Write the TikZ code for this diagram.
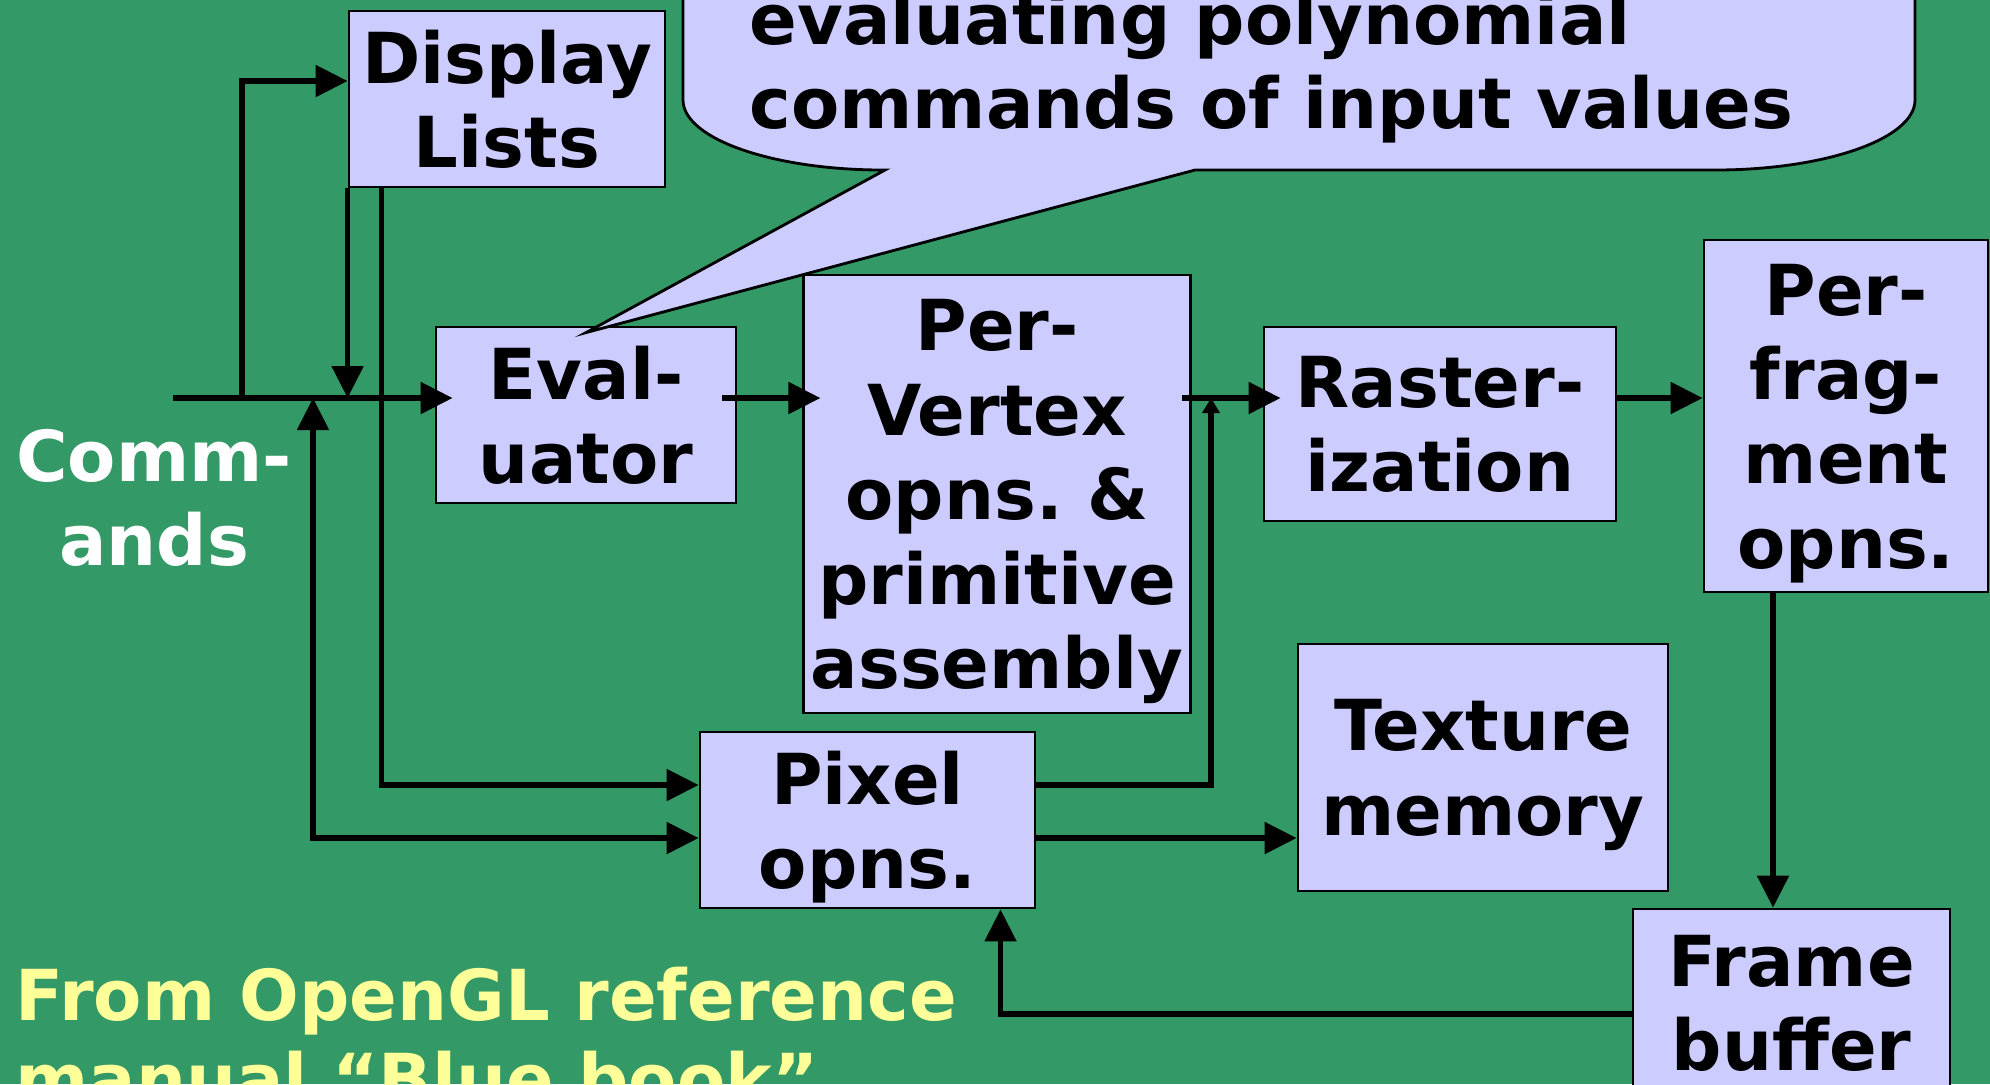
\documentclass[tikz,border=0pt]{standalone}
\usepackage{fontspec}
\setmainfont{DejaVu Sans}
\usetikzlibrary{arrows.meta, positioning, calc}

\definecolor{bggreen}{HTML}{339966}
\definecolor{boxblue}{HTML}{CCCCFF}
\definecolor{capyellow}{HTML}{FFFF99}

\begin{document}
\begin{tikzpicture}[
    block/.style={rectangle, draw, fill=boxblue, line width=0.8pt, align=center, inner sep=2pt, text depth=-0.08cm, font=\bfseries\fontsize{20}{24}\selectfont},
    label/.style={align=center, inner sep=0pt, font=\bfseries\fontsize{20}{24}\selectfont},
    flow/.style={draw, line width=1.5pt, -{Triangle[length=0.32cm, width=0.31cm]}},
    tinytip/.style={-{Triangle[length=0.15cm, width=0.17cm]}}
]

    \useasboundingbox (0,0) rectangle (19.9,-10.84);
    \clip (0,0) rectangle (19.9,-10.84);
    \fill[bggreen] (0,0) rectangle (19.9,-10.84);

    % Input
    \node [label, text=white] (cmds) at (1.54,-4.98) {Comm-\\ands};
    \coordinate (cin) at (1.73,-3.98);
    \coordinate (j1) at (2.42,-3.98);
    \coordinate (j2) at (3.13,-3.98);
    \coordinate (j3) at (12.11,-3.98);

    % Pipeline
    \node [block, minimum width=3.16cm, minimum height=1.76cm] (disp) at (5.07,-0.99) {Display\\Lists};
    \node [block, minimum width=3.00cm, minimum height=1.76cm] (eval) at (5.86,-4.15) {Eval-\\uator};
    \node [block, minimum width=3.82cm, minimum height=4.38cm] (pv) at (9.97,-4.94) {Per-\\Vertex\\opns.\ \&\\primitive\\assembly};
    \node [block, minimum width=3.52cm, minimum height=1.94cm] (ras) at (14.40,-4.24) {Raster-\\ization};
    \node [block, minimum width=2.84cm, minimum height=3.52cm] (pf) at (18.46,-4.16) {Per-\\frag-\\ment\\opns.};

    % Pixel path and memories
    \node [block, minimum width=3.35cm, minimum height=1.76cm] (pix) at (8.675,-8.20) {Pixel\\opns.};
    \node [block, minimum width=3.70cm, minimum height=2.47cm] (tex) at (14.83,-7.675) {Texture\\memory};
    \node [block, minimum width=3.17cm, minimum height=1.88cm] (fb) at (17.915,-10.03) {Frame\\buffer};

    % Callout
    \filldraw [fill=boxblue, line width=0.8pt] (6.83,1.5) -- (6.83,-1.00)
        arc[start angle=180, end angle=270, x radius=2.0cm, y radius=0.70cm]
        -- (8.85,-1.70) -- ([yshift=-0.07cm]eval.north) -- (11.95,-1.70) -- (17.15,-1.70)
        arc[start angle=270, end angle=360, x radius=2.0cm, y radius=0.70cm]
        -- (19.15,1.5) -- cycle;
    \node [label, align=left, anchor=north west] (note) at (7.49,0.10) {evaluating polynomial\\commands of input values};

    % Source
    \node [label, align=left, anchor=north west, text=capyellow] (src) at (0.15,-9.66) {From OpenGL reference\\manual “Blue book”};

    % Connections
    \path [flow] (cin) -- ([xshift=0.18cm]cin -| eval.west);
    \path [flow] (j1) |- ([yshift=0.18cm]disp.west);
    \path [flow] (disp.south west) -- (disp.south west |- cin);
    \path [flow] ([xshift=0.34cm]disp.south west) |- ([yshift=0.35cm]pix.west);
    \path [flow, {Triangle[length=0.32cm, width=0.31cm]}-{Triangle[length=0.32cm, width=0.31cm]}] (j2) |- ([yshift=-0.18cm]pix.west);
    \path [flow] ([xshift=-0.15cm]eval.east |- cin) -- ([xshift=0.18cm]pv.west |- cin);
    \path [flow] ([xshift=-0.1cm]pv.east |- cin) -- ([xshift=0.18cm]ras.west |- cin);
    \path [flow, tinytip] ([yshift=0.35cm]pix.east) -| (j3);
    \path [flow] ([yshift=-0.18cm]pix.east) -- ([yshift=-0.18cm]pix.east -| tex.west);
    \path [flow] (ras.east |- cin) -- (pf.west |- cin);
    \path [flow] ([xshift=-0.73cm]pf.south) -- ([xshift=-0.73cm]pf.south |- fb.north);
    \path [flow] ([yshift=-0.11cm]fb.west) -| ([xshift=1.33cm]pix.south);
\end{tikzpicture}
\end{document}
